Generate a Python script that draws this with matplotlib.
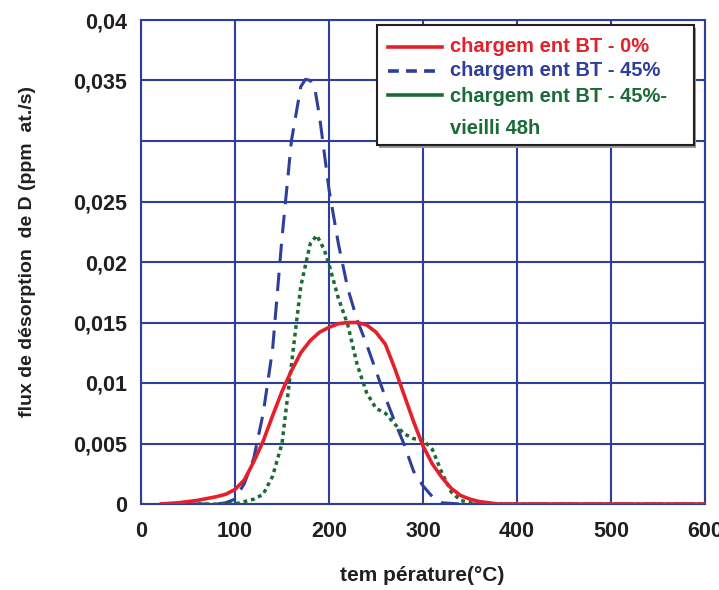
import matplotlib
matplotlib.use("Agg")
import matplotlib.pyplot as plt
from matplotlib.lines import Line2D
from matplotlib.patches import Rectangle

plt.rcParams['font.family'] = ['Liberation Sans', 'DejaVu Sans']

# ---- data ----
red_x = [20, 40, 60, 80, 90, 100, 110, 120, 130, 140, 150, 160, 170, 180, 190, 200, 210, 220, 230, 240,
         250, 260, 270, 280, 290, 300, 310, 320, 330, 340, 350, 360, 370, 380, 400, 450, 500, 550, 600]
red_y = [0, 0.0001, 0.0003, 0.0006, 0.0008, 0.0012, 0.002, 0.0035, 0.0052, 0.0073, 0.0093, 0.011, 0.0125,
         0.0135, 0.0142, 0.0146, 0.0149, 0.015, 0.015, 0.0148, 0.0142, 0.0132, 0.0112, 0.009, 0.0068, 0.0048,
         0.0033, 0.0022, 0.0013, 0.0007, 0.0004, 0.0002, 0.0001, 0, 0, 0, 0, 0, 0]

blue_x = [20, 80, 90, 100, 110, 120, 130, 140, 150, 160, 170, 175, 180, 185, 190, 200, 210, 220, 230, 240,
          250, 260, 270, 280, 290, 300, 310, 320, 340, 400, 600]
blue_y = [0, 0, 0.0001, 0.0004, 0.0017, 0.0038, 0.0075, 0.0128, 0.022, 0.03, 0.0345, 0.0351, 0.035, 0.0343,
          0.032, 0.026, 0.0215, 0.0178, 0.0152, 0.0132, 0.011, 0.0088, 0.0068, 0.0049, 0.0027, 0.0015, 0.0006,
          0.0001, 0, 0, 0]

green_x = [20, 100, 110, 120, 130, 140, 150, 160, 170, 180, 187, 195, 200, 210, 220, 230, 240, 250, 260, 270,
           280, 290, 300, 310, 320, 330, 340, 350, 360, 400, 600]
green_y = [0, 0, 0.0002, 0.0004, 0.0008, 0.0023, 0.005, 0.0115, 0.018, 0.0215, 0.0222, 0.021, 0.0198, 0.017,
           0.0148, 0.0115, 0.0092, 0.0079, 0.0075, 0.0066, 0.0058, 0.0054, 0.0053, 0.0045, 0.0026, 0.001,
           0.0003, 0.0001, 0, 0, 0]

legend_labels = ["chargem ent BT - 0%", "chargem ent BT - 45%", "chargem ent BT - 45%-", "vieilli 48h"]
x_ticks = [0, 100, 200, 300, 400, 500, 600]
y_ticks = [0, 0.005, 0.01, 0.015, 0.02, 0.025, 0.03, 0.035, 0.04]
y_ticklabels = ["0", "0,005", "0,01", "0,015", "0,02", "0,025", "", "0,035", "0,04"]

RED = "#e3202b"
BLUE = "#2e3f9b"
GREEN = "#1b6b37"
GRID = "#2e3f9b"
TXT = "#231f20"

W, H = 719, 590
fig = plt.figure(figsize=(W / 100, H / 100), dpi=100)
L, R, T, B = 141, 705, 20, 504
ax = fig.add_axes([L / W, 1 - B / H, (R - L) / W, (B - T) / H])

ax.plot(red_x, red_y, color=RED, lw=2.6, solid_capstyle='butt', zorder=4)
ax.plot(blue_x, blue_y, color=BLUE, lw=2.2, linestyle=(0, (6, 3.5)), zorder=3)
ax.plot(green_x, green_y, color=GREEN, lw=2.5, linestyle=(0, (1.1, 1.1)), zorder=3)

ax.set_xlim(0, 600)
ax.set_ylim(0, 0.04)
ax.set_xticks(x_ticks)
ax.set_xticklabels([str(v) for v in x_ticks])
ax.set_yticks(y_ticks)
ax.set_yticklabels(y_ticklabels)
ax.tick_params(axis='y', length=0, labelsize=15.5, colors=TXT, pad=10)
ax.tick_params(axis='x', length=0, labelsize=15.5, colors=TXT, pad=12)
for lab in ax.get_xticklabels() + ax.get_yticklabels():
    lab.set_fontweight('bold')
ax.grid(True, color=GRID, lw=1.5)
ax.set_axisbelow(True)
for s in ax.spines.values():
    s.set_color(GRID)
    s.set_linewidth(1.5)

ax.set_ylabel("flux de désorption  de D (ppm  at./s)", fontsize=14, fontweight='bold', color=TXT)
ax.yaxis.set_label_coords((36 - L) / (R - L), (B - 252) / (B - T))
ax.set_xlabel("tem pérature(°C)", fontsize=15, fontweight='bold', color=TXT)
ax.xaxis.set_label_coords((422 - L) / (R - L), (B - 566) / (B - T))


def axc(px, py):
    return ((px - L) / (R - L), (B - py) / (B - T))


# manual legend
x0, y0 = axc(377, 145)
x1, y1 = axc(694, 25)
sh = Rectangle((x0 + 0.004, y0 - 0.006), x1 - x0, y1 - y0, transform=ax.transAxes,
               facecolor='#9a9a9a', edgecolor='none', zorder=9)
ax.add_patch(sh)
box = Rectangle((x0, y0), x1 - x0, y1 - y0, transform=ax.transAxes,
                facecolor='white', edgecolor='#231f20', lw=1.5, zorder=10)
ax.add_patch(box)

rows = [(47, RED, '-'), (71, BLUE, (0, (3, 2))), (95, GREEN, '-')]
for py, c, ls in rows:
    xa, ya = axc(388, py)
    xb, _ = axc(442, py)
    ax.add_line(Line2D([xa, xb], [ya, ya], transform=ax.transAxes, color=c, lw=2.6,
                       linestyle=ls, zorder=11))
tx, _ = axc(450, 0)
text_rows = [(47, RED), (71, BLUE), (97, GREEN), (129, GREEN)]
for (py, c), t in zip(text_rows, legend_labels):
    _, ty = axc(0, py)
    ax.text(tx, ty, t, transform=ax.transAxes, color=c, fontsize=14.5, fontweight='bold',
            va='center', ha='left', zorder=12)

fig.savefig("out.png", dpi=100)
